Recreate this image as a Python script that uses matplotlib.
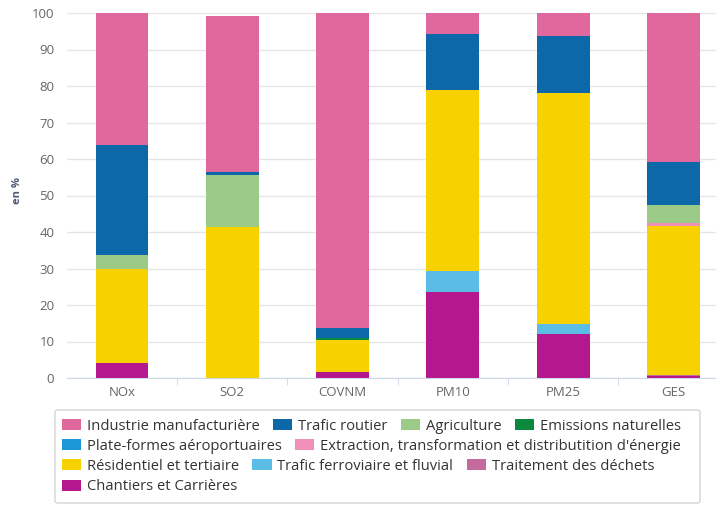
import matplotlib
matplotlib.use("Agg")
import matplotlib.pyplot as plt
import matplotlib.patches as mpatches
import numpy as np

plt.rcParams['font.family'] = ['Open Sans', 'DejaVu Sans']

categories = ["NOx", "SO2", "COVNM", "PM10", "PM25", "GES"]

# stacked from bottom to top
chantiers = [4.2, 0.0, 1.6, 23.6, 12.0, 0.5]
traitement = [0.0, 0.0, 0.0, 0.0, 0.0, 0.3]
ferroviaire = [0.0, 0.0, 0.0, 5.8, 2.8, 0.0]
residentiel = [25.6, 41.3, 8.8, 49.5, 63.4, 40.8]
extraction = [0.0, 0.0, 0.0, 0.0, 0.0, 1.0]
plateformes = [0.0, 0.0, 0.0, 0.0, 0.0, 0.0]
naturelles = [0.0, 0.0, 0.5, 0.0, 0.0, 0.0]
agriculture = [3.9, 14.3, 0.0, 0.0, 0.0, 4.8]
routier = [30.1, 0.8, 2.7, 15.3, 15.5, 11.9]
industrie = [36.2, 42.8, 86.4, 5.8, 6.3, 40.7]

series = [
    ("Chantiers et Carrières", chantiers, "#b5188e"),
    ("Traitement des déchets", traitement, "#c46a9c"),
    ("Trafic ferroviaire et fluvial", ferroviaire, "#5bbce6"),
    ("Résidentiel et tertiaire", residentiel, "#f8d100"),
    ("Extraction, transformation et distributition d'énergie", extraction, "#f08fba"),
    ("Plate-formes aéroportuaires", plateformes, "#1b98d5"),
    ("Emissions naturelles", naturelles, "#0b8a3d"),
    ("Agriculture", agriculture, "#9ccb88"),
    ("Trafic routier", routier, "#0c68a9"),
    ("Industrie manufacturière", industrie, "#e0689d"),
]

legend_rows = [
    ["Industrie manufacturière", "Trafic routier", "Agriculture", "Emissions naturelles"],
    ["Plate-formes aéroportuaires", "Extraction, transformation et distributition d'énergie"],
    ["Résidentiel et tertiaire", "Trafic ferroviaire et fluvial", "Traitement des déchets"],
    ["Chantiers et Carrières"],
]

W, H = 716, 505
fig = plt.figure(figsize=(W / 100, H / 100), dpi=100)
ax = fig.add_axes([66.8 / W, (H - 378) / H, 661.8 / W, 365 / H])

x = np.arange(len(categories))
bottom = np.zeros(len(categories))
colors = {}
for name, vals, col in series:
    ax.bar(x, vals, width=0.478, bottom=bottom, color=col, linewidth=0, zorder=2)
    bottom += np.array(vals)
    colors[name] = col

ax.set_xlim(-0.5, len(categories) - 0.5)
ax.set_ylim(0, 100)
ax.set_yticks(range(0, 101, 10))
ax.yaxis.grid(True, color="#e6e6e6", linewidth=1, zorder=0)
for s in ["top", "right", "left"]:
    ax.spines[s].set_visible(False)
ax.spines["bottom"].set_color("#ccd6eb")
ax.tick_params(axis="y", length=0, pad=9, labelsize=9.5, labelcolor="#666666")
ax.set_xticks(x)
ax.set_xticklabels(categories)
ax.tick_params(axis="x", length=0, pad=6, labelsize=9.5, labelcolor="#666666")
ax.set_xticks(np.arange(0.5, len(categories) - 0.5, 1), minor=True)
ax.tick_params(axis="x", which="minor", length=5, color="#ccd6eb", direction="out")

fig.text(18 / W, 1 - 190 / H, "en %", rotation=90, ha="center", va="center",
         fontsize=8, fontweight="bold", color="#4d5a73")

# legend frame
fig.patches.append(mpatches.FancyBboxPatch(
    (55 / W, 1 - 503 / H), 645 / W, 93 / H, boxstyle="round,pad=0,rounding_size=0.004",
    transform=fig.transFigure, facecolor="white", edgecolor="#d5d5d5", linewidth=1))

row_y = [426, 446, 466, 487]
for names, yy in zip(legend_rows, row_y):
    handles = [mpatches.Patch(facecolor=colors[n], edgecolor="none") for n in names]
    leg = fig.legend(handles, names, loc="center left", bbox_to_anchor=(62 / W, 1 - yy / H),
                     ncol=len(names), frameon=False, fontsize=10.6, borderpad=0,
                     handlelength=1.3, handleheight=0.85, handletextpad=0.4,
                     columnspacing=0.9, borderaxespad=0)
    for t in leg.get_texts():
        t.set_color("#333333")

fig.savefig("out.png", dpi=100)
